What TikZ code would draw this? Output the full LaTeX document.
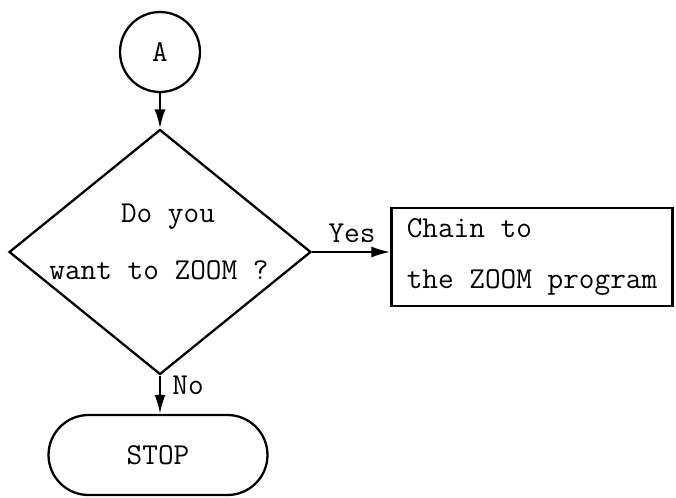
\documentclass[tikz,border=0pt]{standalone}
\usepackage{fontspec}
\setmonofont{Latin Modern Mono}[WordSpace={1,0,0}]
\usetikzlibrary{arrows.meta,shapes.geometric}

\begin{document}
\begin{tikzpicture}[x=0.02cm,y=-0.02cm,
		line width=1.3pt,
		font=\ttfamily\fontsize{17.3}{29.5}\selectfont,
		conn/.style={-{Latex[length=3.8mm,width=2.2mm]}},
		decide/.style={draw,diamond,inner sep=0pt,minimum width=6.04cm,minimum height=4.9cm},
		procbox/.style={draw,rectangle,minimum width=5.62cm,minimum height=1.96cm,align=left},
		term/.style={draw,rectangle,rounded corners=0.8cm,minimum width=4.38cm,minimum height=1.6cm}]
			\useasboundingbox (0,0) rectangle (676,497);
			\node[draw,circle,minimum size=1.6cm] (conA) at (160,52) {A};
			\node[decide] (zoomq) at (160,252) {};
				\node (zq1) at (168,217) {Do you};
				\node (zq2) at (159,270) {want to ZOOM ?};
			\node[procbox] (chain) at (532,257) {Chain to\\the ZOOM program};
			\node[term] (stop) at (158,455) {STOP};
			\draw[conn] (conA) -- (zoomq.north);
			\draw[conn] (zoomq.east) -- (zoomq.east -| chain.west);
			\draw[conn] (zoomq.south) -- (zoomq.south |- stop.north);
				\node (yes) at (352,233) {Yes};
				\node (no) at (188,385) {No};
		\end{tikzpicture}
\end{document}
